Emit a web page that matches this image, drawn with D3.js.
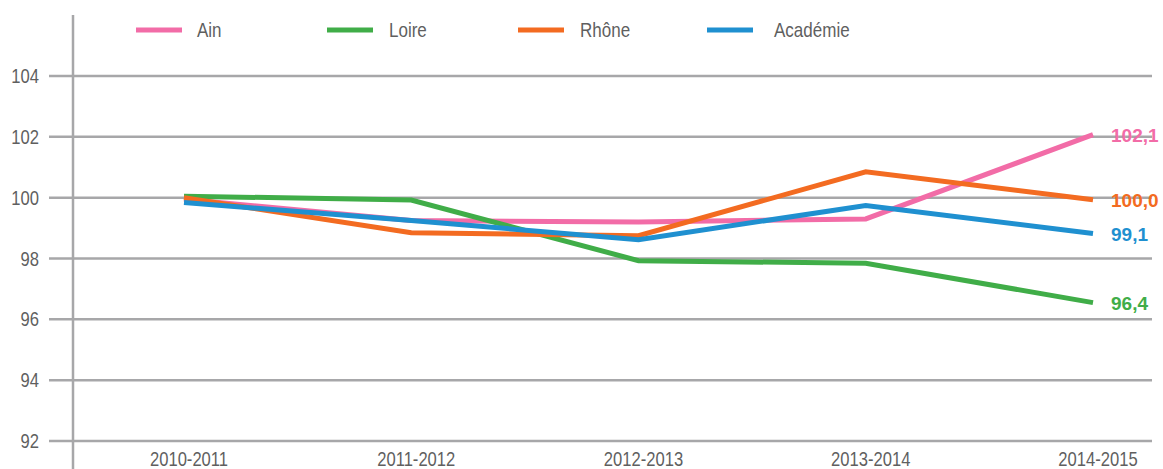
<!DOCTYPE html>
<html><head><meta charset="utf-8">
<script src="https://cdn.jsdelivr.net/npm/d3@7"></script>
<style>
html,body{margin:0;padding:0;background:#fff;}
svg{display:block;}
.narrow{font-family:"Liberation Sans",Arial,sans-serif;}
</style></head>
<body><svg id="c" width="1163" height="469"></svg>
<script>
const categories = ["2010-2011","2011-2012","2012-2013","2013-2014","2014-2015"];
const seriesNames = ["Ain","Loire","Rhône","Académie"];
const ain      = [99.95, 99.25, 99.2, 99.3, 102.07];
const loire    = [100.05, 99.92, 97.93, 97.84, 96.55];
const rhone    = [100.0, 98.85, 98.75, 100.85, 99.93];
const academie = [99.84, 99.25, 98.62, 99.74, 98.82];
const endLabels = ["102,1","96,4","100,0","99,1"];
const yTicks = [92,94,96,98,100,102,104];
const colors = ["#f26ca7","#40ad48","#f36b21","#1f90d0"];

const seriesValues = [ain, loire, rhone, academie];
const svg = d3.select("#c");
const SX = 0.83; // condensed look

const x = d3.scalePoint().domain(categories).range([184, 1093]);
const y = d3.scaleLinear().domain([92,104]).range([441,76]);

const gridColor = "#a7a7a9";
const txtColor = "#5f5f5f";
svg.append("g").selectAll("line").data(yTicks).join("line")
  .attr("x1",49).attr("x2",1152)
  .attr("y1",d=>y(d)).attr("y2",d=>y(d))
  .attr("stroke",gridColor).attr("stroke-width",2.5);
svg.append("line").attr("x1",73).attr("x2",73).attr("y1",15).attr("y2",469)
  .attr("stroke",gridColor).attr("stroke-width",2.5);

function ntext(g, tx, ty, anchor, str, size){
  return g.append("text").attr("class","narrow")
    .attr("transform",`translate(${tx},${ty}) scale(${SX},1)`)
    .attr("text-anchor",anchor).attr("font-size",size).attr("fill",txtColor)
    .text(str);
}
const yl = svg.append("g");
yTicks.forEach(d=>ntext(yl,39,y(d)+7,"end",d,20));
const xl = svg.append("g");
categories.forEach(d=>ntext(xl,x(d)+5,466,"middle",d,20));

const line = d3.line().x((d,i)=>x(categories[i])).y(d=>y(d));
seriesValues.forEach((vals,k)=>{
  svg.append("path").datum(vals).attr("d",line)
    .attr("fill","none").attr("stroke",colors[k]).attr("stroke-width",5)
    .attr("stroke-linejoin","miter");
});
seriesValues.forEach((vals,k)=>{
  svg.append("text")
    .attr("x",x(categories[categories.length-1])+18)
    .attr("y",y(vals[vals.length-1])).attr("dy","0.38em")
    .attr("font-family","'Liberation Sans',Arial,sans-serif")
    .attr("font-weight","bold").attr("font-size",19)
    .attr("fill",colors[k]).text(endLabels[k]);
});

const legX = [136,327,518,707];
const legTextX = [197,389,580,774];
const lg = svg.append("g");
seriesNames.forEach((n,k)=>{
  lg.append("line").attr("x1",legX[k]).attr("x2",legX[k]+46)
    .attr("y1",30).attr("y2",30).attr("stroke",colors[k]).attr("stroke-width",5);
  ntext(lg,legTextX[k],37,"start",n,20.5);
});
</script></body></html>
